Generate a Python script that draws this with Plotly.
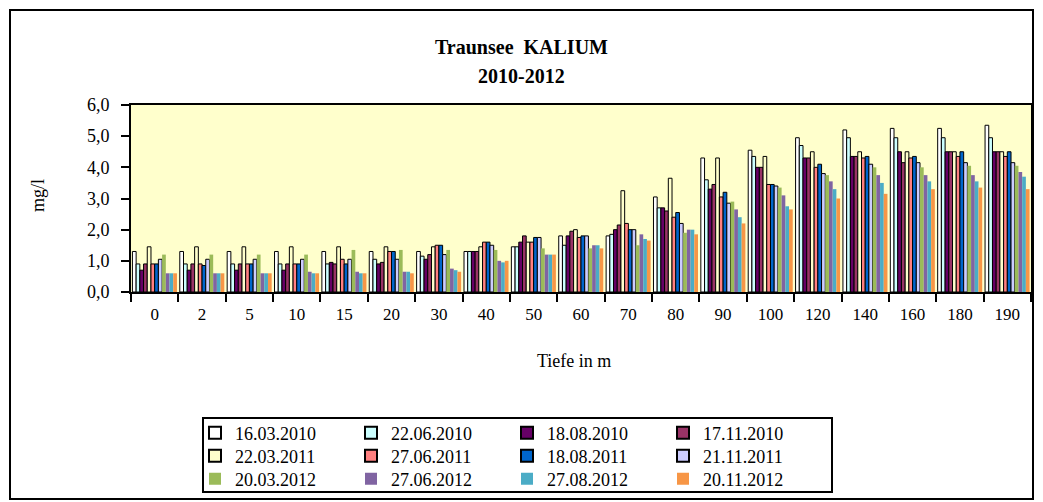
import plotly.graph_objects as go

# depth categories (Tiefe in m)
depths = ["0", "2", "5", "10", "15", "20", "30", "40", "50", "60",
          "70", "80", "90", "100", "120", "140", "160", "180", "190"]

dates = ["16.03.2010", "22.06.2010", "18.08.2010", "17.11.2010",
         "22.03.2011", "27.06.2011", "18.08.2011", "21.11.2011",
         "20.03.2012", "27.06.2012", "27.08.2012", "20.11.2012"]

# Kalium in mg/l, one list per sampling date
k_16_03_2010 = [1.3, 1.3, 1.3, 1.3, 1.3, 1.3, 1.3, 1.3, 1.45, 1.8, 1.8, 3.05, 4.3, 4.55, 4.95, 5.2, 5.25, 5.25, 5.35]
k_22_06_2010 = [0.9, 0.9, 0.9, 0.9, 0.9, 1.05, 1.15, 1.3, 1.45, 1.5, 1.85, 2.7, 3.6, 4.35, 4.7, 4.95, 4.95, 4.95, 4.95]
k_18_08_2010 = [0.7, 0.7, 0.7, 0.7, 0.95, 0.9, 1.05, 1.3, 1.6, 1.8, 2.0, 2.7, 3.3, 4.0, 4.3, 4.35, 4.5, 4.5, 4.5]
k_17_11_2010 = [0.9, 0.9, 0.9, 0.9, 0.9, 0.95, 1.2, 1.3, 1.8, 1.95, 2.15, 2.6, 3.45, 4.0, 4.3, 4.35, 4.15, 4.5, 4.5]
k_22_03_2011 = [1.45, 1.45, 1.45, 1.45, 1.45, 1.45, 1.45, 1.45, 1.6, 2.0, 3.25, 3.65, 4.3, 4.35, 4.5, 4.5, 4.5, 4.5, 4.5]
k_27_06_2011 = [0.9, 0.9, 0.9, 0.9, 1.05, 1.3, 1.5, 1.6, 1.6, 1.75, 2.2, 2.4, 3.05, 3.45, 4.0, 4.3, 4.3, 4.35, 4.35]
k_18_08_2011 = [0.9, 0.85, 0.9, 0.9, 0.9, 1.3, 1.5, 1.6, 1.75, 1.8, 2.0, 2.55, 3.2, 3.45, 4.1, 4.35, 4.35, 4.5, 4.5]
k_21_11_2011 = [1.05, 1.05, 1.05, 1.05, 1.05, 1.05, 1.2, 1.5, 1.75, 1.8, 2.0, 2.2, 2.85, 3.4, 3.8, 4.1, 4.15, 4.15, 4.15]
k_20_03_2012 = [1.2, 1.2, 1.2, 1.2, 1.35, 1.35, 1.35, 1.35, 1.4, 1.4, 1.5, 1.9, 2.9, 3.35, 3.75, 4.0, 4.0, 4.05, 4.05]
k_27_06_2012 = [0.6, 0.6, 0.6, 0.65, 0.65, 0.65, 0.75, 1.0, 1.2, 1.5, 1.85, 2.0, 2.65, 3.1, 3.55, 3.75, 3.75, 3.75, 3.85]
k_27_08_2012 = [0.6, 0.6, 0.6, 0.6, 0.6, 0.65, 0.7, 0.95, 1.2, 1.5, 1.7, 2.0, 2.4, 2.75, 3.3, 3.5, 3.55, 3.55, 3.7]
k_20_11_2012 = [0.6, 0.6, 0.6, 0.6, 0.6, 0.6, 0.65, 1.0, 1.2, 1.4, 1.65, 1.85, 2.2, 2.65, 3.0, 3.15, 3.3, 3.35, 3.3]

series = [k_16_03_2010, k_22_06_2010, k_18_08_2010, k_17_11_2010,
          k_22_03_2011, k_27_06_2011, k_18_08_2011, k_21_11_2011,
          k_20_03_2012, k_27_06_2012, k_27_08_2012, k_20_11_2012]

colors = ["#FFFFFF", "#CCFFFF", "#660066", "#993366",
          "#FFFFCC", "#FF8080", "#0066CC", "#CCCCFF",
          "#9BBB59", "#8064A2", "#4BACC6", "#F79646"]

FONT = "Liberation Serif"

# the page has an 8px body margin, so the figure is drawn 8px in
OFF = 8
W, H = 1043 - OFF, 502 - OFF
# plot area on screen: left 131, right 1031, top 105, bottom 292
L = 131 - OFF
T = 105 - OFF
R = W - (1031 - OFF)
B = H - (292 - OFF)
PW, PH = W - L - R, H - T - B


def px(x):
    # screen x -> paper
    return (x - OFF - L) / PW


def py(y):
    # screen y -> paper
    return (H - B - (y - OFF)) / PH


fig = go.Figure()
for i, (name, vals, col) in enumerate(zip(dates, series, colors)):
    row = i // 4
    fig.add_trace(go.Bar(
        x=depths, y=vals, name=name,
        marker=dict(color=col,
                    line=dict(color="black", width=1 if i < 8 else 0)),
        legend="legend" if row == 0 else f"legend{row + 1}",
    ))

leg_common = dict(orientation="h", xanchor="left", yanchor="middle",
                  x=px(195), entrywidth=111, entrywidthmode="pixels",
                  bgcolor="rgba(0,0,0,0)", borderwidth=0,
                  font=dict(family=FONT, size=18, color="black"),
                  itemsizing="constant", traceorder="normal")


def label(text, x, y, size, angle=0):
    return dict(text=text, xref="paper", yref="paper", x=px(x), y=py(y),
                xanchor="center", yanchor="middle", showarrow=False,
                textangle=angle, font=dict(family=FONT, size=size))


fig.update_layout(
    width=W, height=H,
    margin=dict(l=L, r=R, t=T, b=B, autoexpand=False),
    paper_bgcolor="white",
    plot_bgcolor="#FFFFCC",
    barmode="group", bargap=0.06, bargroupgap=0,
    separators=",.",
    font=dict(family=FONT, size=17, color="black"),
    legend=dict(y=py(433), **leg_common),
    legend2=dict(y=py(456), **leg_common),
    legend3=dict(y=py(479), **leg_common),
    xaxis=dict(type="category", tickson="boundaries", ticks="outside",
               ticklen=8, tickwidth=2, tickcolor="black",
               ticklabelstandoff=6,
               showline=True, linecolor="black", linewidth=2, mirror=True,
               showgrid=False, tickfont=dict(size=17)),
    yaxis=dict(range=[0, 6], dtick=1, tickformat=".1f", ticks="outside",
               ticklen=8, tickwidth=2, tickcolor="black",
               ticklabelstandoff=8,
               showline=True, linecolor="black", linewidth=2, mirror=True,
               showgrid=False, zeroline=False, tickfont=dict(size=18)),
    shapes=[
        dict(type="rect", xref="paper", yref="paper",
             x0=px(10), x1=px(1033), y0=py(499), y1=py(10),
             line=dict(color="black", width=2), fillcolor="rgba(0,0,0,0)",
             layer="below"),
        dict(type="rect", xref="paper", yref="paper",
             x0=px(203), x1=px(832), y0=py(492), y1=py(418),
             line=dict(color="black", width=2), fillcolor="rgba(0,0,0,0)"),
    ],
    annotations=[
        label("<b>Traunsee  KALIUM</b>", 521, 47, 20),
        label("<b>2010-2012</b>", 521, 76, 20),
        label("Tiefe in m", 574, 361, 18),
        label("mg/l", 38, 196, 18, angle=-90),
    ],
)

fig.write_html("out.html")
